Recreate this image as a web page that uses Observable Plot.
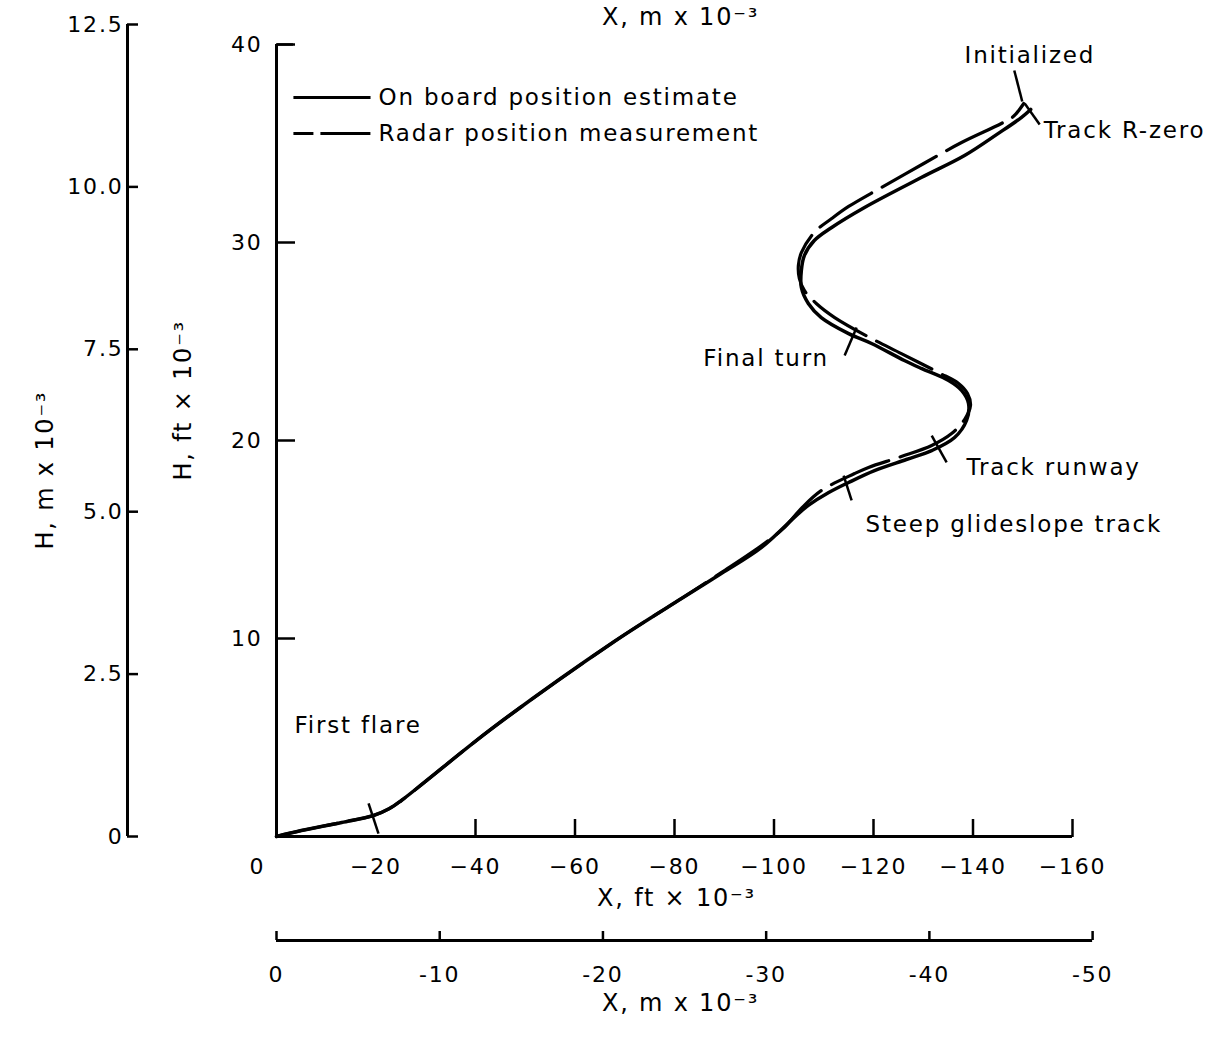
<!DOCTYPE html>
<html><head><meta charset="utf-8">
<script src="https://cdn.jsdelivr.net/npm/d3@7"></script>
<script src="https://cdn.jsdelivr.net/npm/@observablehq/plot@0.6"></script>
<style>html,body{margin:0;padding:0;background:#fff;} #chart svg{display:block;}</style>
</head><body><div id="chart"></div>
<script>
// ---- Data (X and H in thousands of feet) ----
const onboardX = [0,-5.0,-13.1,-19.5,-22.7,-25.1,-29.7,-43.6,-67.9,-81.4,-89.4,-97.5,-104.9,-106.9,-111.0,-115.0,-120.2,-126.6,-131.7,-136.3,-138.7,-139.1,-137.7,-135.1,-129.6,-126.2,-119.6,-115.0,-109.5,-106.9,-105.5,-105.5,-106.1,-108.1,-111.6,-118.2,-129.6,-138.3,-145.1,-149.7,-151.6];
const onboardY = [0,0.30,0.71,1.06,1.41,1.82,2.73,5.51,9.85,12.02,13.28,14.60,16.31,16.72,17.37,17.88,18.48,19.04,19.49,20.15,21.01,21.87,22.53,23.03,23.64,24.04,24.90,25.40,26.21,26.92,27.73,28.59,29.34,30.10,30.76,31.77,33.28,34.39,35.51,36.31,36.72];
const radarX = [0,-5.0,-13.1,-19.5,-22.7,-25.1,-29.7,-43.6,-67.9,-81.4,-89.4,-97.5,-101.9,-105.5,-109.5,-116.2,-119.0,-125.6,-131.7,-135.7,-138.3,-139.5,-138.9,-137.1,-133.1,-125.6,-119.6,-112.2,-108.5,-106.1,-105.1,-104.9,-105.5,-108.1,-111.6,-115.0,-121.6,-130.1,-137.7,-145.7,-148.1,-150.2];
const radarY = [0,0.30,0.71,1.06,1.41,1.82,2.73,5.51,9.85,12.02,13.33,14.70,15.56,16.57,17.47,18.33,18.64,19.19,19.75,20.35,21.06,21.77,22.37,22.88,23.43,24.39,25.15,26.21,26.92,27.58,28.18,28.84,29.49,30.51,31.21,31.82,32.78,33.99,35.05,36.01,36.36,37.02];

const xTicksFt = [0,-20,-40,-60,-80,-100,-120,-140,-160];
const yTicksFt = [10,20,30,40];
const xTicksM = [0,-10,-20,-30,-40,-50];
const xTickLabelsM = ["0","-10","-20","-30","-40","-50"];
const yTicksM = [0,2.5,5,7.5,10,12.5];
const yTickLabelsM = ["0","2.5","5.0","7.5","10.0","12.5"];
const FT_PER_M = 3.28084;

const seriesNames = ["On board position estimate","Radar position measurement"];

// event marks along the trajectory (crossing ticks and leaders)
const eventTicks = [
  {x1:-18.5,y1:1.67,x2:-20.5,y2:0.15},
  {x1:-114.0,y1:18.23,x2:-115.6,y2:16.97},
  {x1:-131.7,y1:20.25,x2:-134.7,y2:18.89},
  {x1:-116.6,y1:25.71,x2:-114.2,y2:24.29},
  {x1:-148.3,y1:38.69,x2:-149.9,y2:37.12},
  {x1:-150.4,y1:37.02,x2:-153.4,y2:35.96}
];
const eventLabels = [
  {x:-138.3,y:39.44,text:"Initialized"},
  {x:-154.2,y:35.66,text:"Track R-zero"},
  {x:-85.8,y:24.14,text:"Final turn"},
  {x:-138.7,y:18.64,text:"Track runway"},
  {x:-118.4,y:15.76,text:"Steep glideslope track"},
  {x:-3.6,y:5.61,text:"First flare"}
];
const legendPos = [
  {x1:-3.4,x2:-18.9,xt:-20.5,y:37.32,dash:null},
  {x1:-3.4,x2:-18.9,xt:-20.5,y:35.51,dash:"20,7,50"}
];

const onboard = onboardX.map((x,i)=>({x, y:onboardY[i]}));
const radar = radarX.map((x,i)=>({x, y:radarY[i]}));
const legend = legendPos.map((d,i)=>({...d, name:seriesNames[i]}));
const mLeftMap = new Map(yTicksM.map((m,i)=>[m*FT_PER_M, yTickLabelsM[i]]));
const mBottomMap = new Map(xTicksM.map((m,i)=>[m*FT_PER_M, xTickLabelsM[i]]));
const minus = d => d === 0 ? "0" : "\u2212" + Math.abs(d);

const chart = Plot.plot({
  width: 1216, height: 1039,
  marginLeft: 276, marginRight: 144, marginTop: 44, marginBottom: 203,
  x: {domain: [0, -160], axis: null},
  y: {domain: [0, 40], axis: null},
  style: {fontFamily: "DejaVu Sans", fontSize: "22px", background: "white", color: "black", letterSpacing: "1.5px"},
  marks: [
    // main axes lines
    Plot.ruleY([0], {x1: 0, x2: -160, strokeWidth: 3}),
    Plot.ruleX([0], {y1: 0, y2: 40, strokeWidth: 3}),
    // inward ticks
    Plot.axisX(xTicksFt.filter(d => d <= -40), {anchor: "top", dy: 792, tickSize: 18, strokeWidth: 2.5, tickFormat: () => "", label: null}),
    Plot.axisY(yTicksFt, {anchor: "right", dx: -796, tickSize: 18, strokeWidth: 2.5, tickFormat: () => "", label: null}),
    Plot.ruleY([40], {x1: 0, x2: -3.4, strokeWidth: 2.5}),
    // main tick labels
    Plot.axisX(xTicksFt.filter(d => d !== 0), {anchor: "bottom", tickSize: 0, tickPadding: 22, tickFormat: minus, label: null, fontSize: 22}),
    Plot.axisX([0], {anchor: "bottom", tickSize: 0, tickPadding: 22, dx: -19, tickFormat: minus, label: null, fontSize: 22}),
    Plot.axisY(yTicksFt, {anchor: "left", tickSize: 0, tickPadding: 14, label: null, fontSize: 22}),
    // left metric axis
    Plot.ruleX([0], {y1: 0, y2: 12.5 * FT_PER_M, dx: -149, strokeWidth: 3}),
    Plot.axisY(yTicksM.map(m => m * FT_PER_M), {anchor: "left", tickSize: 11, dx: -138, tickPadding: 4, strokeWidth: 2.5, tickFormat: d => mLeftMap.get(d), label: null, fontSize: 22}),
    // bottom metric axis
    Plot.ruleY([0], {x1: 0, x2: -50 * FT_PER_M, dy: 104, strokeWidth: 3}),
    Plot.axisX(xTicksM.map(m => m * FT_PER_M), {anchor: "bottom", tickSize: 9, dy: 95, tickPadding: 26, strokeWidth: 2.5, tickFormat: d => mBottomMap.get(d), label: null, fontSize: 22}),
    // axis titles
    Plot.text(["X, ft \u00d7 10\u207b\u00b3"], {frameAnchor: "bottom", dx: 2, dy: 69, fontSize: 24}),
    Plot.text(["X, m x 10\u207b\u00b3"], {frameAnchor: "bottom", dx: 6, dy: 174, fontSize: 24}),
    Plot.text(["X, m x 10\u207b\u00b3"], {frameAnchor: "top", dx: 6, dy: -37, fontSize: 24}),
    Plot.text(["H, ft \u00d7 10\u207b\u00b3"], {frameAnchor: "left", rotate: -90, dx: -93, dy: 40, fontSize: 24}),
    Plot.text(["H, m x 10\u207b\u00b3"], {frameAnchor: "left", rotate: -90, dx: -231, dy: 109, fontSize: 24}),
    // trajectories
    Plot.line(onboard, {x: "x", y: "y", strokeWidth: 3.5, curve: "catmull-rom"}),
    Plot.line(radar, {x: "x", y: "y", strokeWidth: 3.2, strokeDasharray: "62,12", curve: "catmull-rom"}),
    // event ticks and labels
    Plot.link(eventTicks, {x1: "x1", y1: "y1", x2: "x2", y2: "y2", strokeWidth: 2.5}),
    Plot.text(eventLabels, {x: "x", y: "y", text: "text", textAnchor: "start", fontSize: 23}),
    // legend
    Plot.link(legend.filter(d => !d.dash), {x1: "x1", x2: "x2", y1: "y", y2: "y", strokeWidth: 3}),
    Plot.link(legend.filter(d => d.dash), {x1: "x1", x2: "x2", y1: "y", y2: "y", strokeWidth: 3, strokeDasharray: "20,7,50"}),
    Plot.text(legend, {x: "xt", y: "y", text: "name", textAnchor: "start", fontSize: 23})
  ]
});
chart.querySelectorAll("text").forEach(t => { t.style.letterSpacing = "1.8px"; });
document.getElementById("chart").appendChild(chart);
</script></body></html>
